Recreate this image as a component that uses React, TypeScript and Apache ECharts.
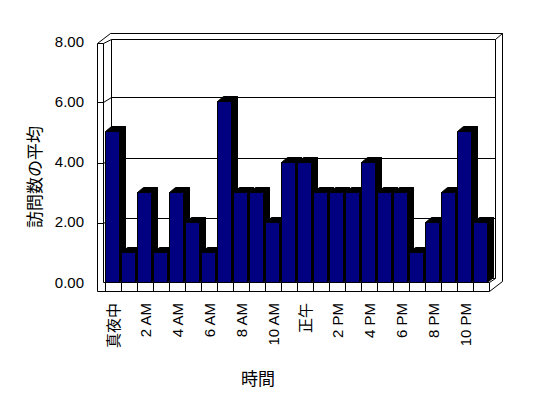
import React, { useEffect, useRef } from 'react';
import * as echarts from 'echarts';

const hours = [
  '真夜中', '1 AM', '2 AM', '3 AM', '4 AM', '5 AM', '6 AM', '7 AM', '8 AM', '9 AM', '10 AM', '11 AM',
  '正午', '1 PM', '2 PM', '3 PM', '4 PM', '5 PM', '6 PM', '7 PM', '8 PM', '9 PM', '10 PM', '11 PM',
];
const visits = [5, 1, 3, 1, 3, 2, 1, 6, 3, 3, 2, 4, 4, 3, 3, 3, 4, 3, 3, 1, 2, 3, 5, 2];
const gridTicks = [2, 4, 6];
const yTitle = '訪問数の平均';
const xTitle = '時間';

const FONT = '"Liberation Sans", "Noto Sans CJK JP", sans-serif';
const CJK = '"Noto Sans CJK JP", sans-serif';

export default function App() {
  const ref = useRef<HTMLDivElement>(null);
  useEffect(() => {
    const chart = echarts.init(ref.current!, null, { renderer: 'svg' });
    const renderItem = (params: any, api: any) => {
      const i = api.value(0);
      const v = api.value(1);
      const top = api.coord([i, v]);
      const bot = api.coord([i, 0]);
      const band = api.size([1, 0])[0];
      const x0 = Math.round(top[0] - band / 2) + 0.5;
      const w = band - 2;
      const dx = 6, dy = -5;
      const yt = Math.round(top[1]) + 0.5;
      const yb = Math.round(bot[1]) + 0.5;
      return {
        type: 'group',
        children: [
          { type: 'polygon', shape: { points: [[x0 + w, yt], [x0 + w + dx, yt + dy], [x0 + w + dx, yb + dy], [x0 + w, yb]] }, style: { fill: '#000', stroke: '#000', lineWidth: 1 } },
          { type: 'polygon', shape: { points: [[x0, yt], [x0 + dx, yt + dy], [x0 + w + dx, yt + dy], [x0 + w, yt]] }, style: { fill: '#000', stroke: '#000', lineWidth: 1 } },
          { type: 'rect', shape: { x: x0, y: yt, width: w, height: yb - yt }, style: { fill: '#000080', stroke: '#000', lineWidth: 1 } },
        ],
      };
    };
    chart.setOption({
      animation: false,
      backgroundColor: '#fff',
      grid: { left: 105, right: 59, top: 41, bottom: 116 },
      xAxis: {
        type: 'category', data: hours,
        axisLine: { show: false }, axisTick: { show: false }, splitLine: { show: false },
        axisLabel: { interval: 1, rotate: 90, margin: 21, fontSize: 15, color: '#000', fontFamily: FONT },
      },
      yAxis: {
        type: 'value', min: 0, max: 8, interval: 2,
        axisLine: { show: false }, axisTick: { show: false }, splitLine: { show: false },
        axisLabel: { margin: 21, fontSize: 15, color: '#000', fontFamily: FONT, formatter: (v: number) => v.toFixed(2) },
      },
      series: [{ type: 'custom', data: visits.map((v, i) => [i, v]), renderItem, z: 10 }],
    });

    const py = (v: number) => chart.convertToPixel({ yAxisIndex: 0 }, v) as number;
    const c0 = chart.convertToPixel({ xAxisIndex: 0 }, hours[0]) as number;
    const c1 = chart.convertToPixel({ xAxisIndex: 0 }, hours[1]) as number;
    const band = c1 - c0;
    const left = Math.round(c0 - band / 2);
    const right = Math.round(c0 - band / 2 + band * hours.length);
    const y0 = Math.round(py(0));
    const y8 = Math.round(py(8));
    const h = (n: number) => n + 0.5;
    const FL = h(left - 8), IL = h(left - 2), BL = h(left + 6), BR = h(right + 6), OR = h(right + 13);
    const FT = h(y8 + 2), BT = h(y8 - 2), OT = h(y8 - 8);
    const Y0 = h(y0), FB = h(y0 + 9);
    const stroke = { stroke: '#000', lineWidth: 1, fill: null };
    const line = (x1: number, y1: number, x2: number, y2: number) => ({ type: 'line', shape: { x1, y1, x2, y2 }, style: stroke, silent: true });
    const els: any[] = [];
    els.push({ type: 'rect', shape: { x: BL, y: BT, width: BR - BL, height: Y0 - 4 - BT }, style: { fill: '#fff', stroke: '#000', lineWidth: 1 }, silent: true });
    gridTicks.forEach((v) => {
      const yb = h(Math.round(py(v)) - 4);
      const yf = h(Math.round(py(v)) + 1);
      els.push(line(BL, yb, BR, yb));
      els.push(line(FL, yf, IL, yf));
      els.push(line(IL, yf, BL, yb));
    });
    els.push(line(FL, FT, FL, FB));
    els.push(line(IL, FT, IL, Y0));
    els.push(line(FL, FT, IL, FT));
    els.push(line(IL, FT, BL, BT));
    els.push(line(FL, FT, BL - 1, OT));
    els.push(line(BL - 1, OT, OR, OT));
    els.push(line(BR, BT, OR, OT));
    els.push(line(OR, OT, OR, Y0 - 1));
    els.push(line(IL, Y0, h(right), Y0));
    els.push(line(FL, FB, h(right), FB));
    for (let k = 0; k <= hours.length; k++) {
      const x = h(Math.round(left + k * band));
      els.push(line(x, Y0, x, FB));
    }
    els.push(line(h(right), FB, OR, Y0 - 1));
    els.push(line(h(right), Y0, BR, Y0 - 4));
    els.push({
      type: 'text', x: 33, y: 177, rotation: Math.PI / 2, silent: true,
      style: { text: yTitle, font: `17px ${CJK}`, fill: '#000', textAlign: 'center', textVerticalAlign: 'middle', align: 'center', verticalAlign: 'middle' },
    });
    els.push({
      type: 'text', x: 258, y: 377, silent: true,
      style: { text: xTitle, font: `17px ${CJK}`, fill: '#000', textAlign: 'center', textVerticalAlign: 'middle', align: 'center', verticalAlign: 'middle' },
    });
    chart.setOption({ graphic: { elements: els } });
    return () => chart.dispose();
  }, []);
  return <div ref={ref} style={{ position: 'absolute', left: 0, top: 0, width: 548, height: 398 }} />;
}
